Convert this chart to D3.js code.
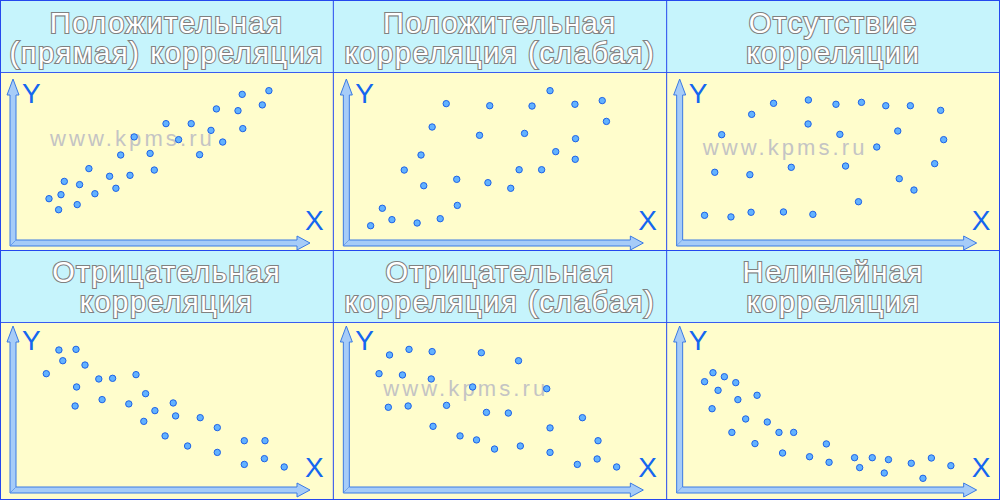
<!DOCTYPE html>
<html>
<head>
<meta charset="utf-8">
<script src="https://cdnjs.cloudflare.com/ajax/libs/d3/7.8.5/d3.min.js"></script>
<style>
  body { margin: 0; background: #fff; }
  svg { display: block; }
</style>
</head>
<body>
<div id="chart"></div>
<script>
// panel titles (two lines each)
var titles = [
  ["Положительная", "(прямая) корреляция"],
  ["Положительная", "корреляция (слабая)"],
  ["Отсутствие", "корреляции"],
  ["Отрицательная", "корреляция"],
  ["Отрицательная", "корреляция (слабая)"],
  ["Нелинейная", "корреляция"]
];

// points, 0..100 on each axis
var posStrongX = [12.0, 15.2, 16.0, 17.1, 21.4, 22.2, 25.3, 27.3, 32.2, 34.3, 35.9, 39.0, 40.4, 45.7, 47.1, 51.0, 55.2, 59.4, 62.2, 66.0, 67.8, 69.9, 75.0, 76.4, 76.6, 83.1, 85.3];
var posStrongY = [27.7, 20.8, 30.2, 38.5, 24.0, 36.5, 46.5, 30.8, 41.7, 34.2, 55.0, 42.3, 66.3, 56.0, 45.6, 74.6, 64.6, 74.6, 55.2, 70.4, 83.8, 63.1, 82.7, 92.9, 71.5, 86.3, 95.2];

var posWeakX = [8.1, 12.0, 15.2, 19.3, 23.6, 24.9, 25.8, 28.6, 31.3, 33.3, 36.8, 37.0, 44.4, 47.2, 47.8, 54.8, 57.6, 59.4, 61.9, 65.1, 67.9, 69.8, 76.2, 76.3, 76.4, 85.3, 86.7];
var posWeakY = [10.8, 21.7, 14.6, 45.6, 12.5, 55.0, 35.8, 72.5, 15.2, 87.1, 39.8, 23.5, 67.3, 37.7, 85.8, 34.2, 45.8, 68.5, 85.6, 45.8, 95.2, 57.1, 86.7, 52.3, 65.2, 89.0, 76.0];

var noneX = [8.3, 11.7, 14.0, 17.1, 23.4, 23.8, 24.0, 31.3, 34.6, 37.2, 42.8, 42.9, 44.4, 52.1, 53.4, 55.3, 59.6, 60.6, 65.7, 68.7, 72.7, 73.2, 76.9, 78.1, 85.0, 87.0, 88.0];
var noneY = [17.3, 44.2, 67.7, 16.3, 42.7, 19.2, 80.4, 87.3, 19.4, 47.3, 74.4, 89.4, 17.9, 86.7, 67.9, 48.1, 25.8, 87.9, 60.0, 85.8, 70.0, 40.2, 85.8, 33.1, 49.6, 82.9, 64.6];

var negStrongX = [11.1, 15.3, 16.6, 20.7, 21.0, 21.2, 24.0, 28.6, 29.7, 33.2, 38.6, 41.0, 43.6, 44.2, 47.3, 50.7, 53.4, 54.2, 58.2, 62.4, 68.1, 68.1, 77.1, 77.1, 83.8, 84.0, 90.4];
var negStrongY = [72.7, 87.5, 80.8, 52.5, 87.9, 64.4, 78.1, 69.4, 56.5, 69.8, 53.8, 72.1, 42.9, 60.2, 49.6, 33.8, 54.4, 46.3, 27.5, 45.2, 39.0, 23.5, 30.8, 16.0, 19.6, 30.8, 14.4];

var negWeakX = [10.9, 14.0, 14.4, 18.7, 20.6, 20.9, 28.3, 28.6, 28.9, 33.4, 37.9, 42.1, 43.4, 45.0, 46.7, 49.4, 54.0, 57.4, 58.0, 66.8, 67.9, 67.9, 77.0, 78.7, 83.6, 83.9, 90.1];
var negWeakY = [72.7, 51.7, 84.4, 71.9, 52.5, 87.9, 69.4, 86.5, 39.8, 52.9, 33.8, 64.4, 31.3, 85.8, 48.5, 25.6, 48.1, 80.8, 27.5, 63.3, 38.8, 23.5, 16.0, 45.2, 19.4, 30.8, 14.4];

var nonlinX = [8.3, 10.8, 11.1, 12.8, 14.9, 17.4, 18.7, 19.4, 22.0, 25.1, 25.8, 29.2, 33.1, 34.3, 38.0, 43.3, 48.9, 49.8, 58.3, 60.0, 64.2, 68.2, 69.6, 77.2, 81.1, 83.9, 90.4];
var nonlinY = [67.7, 50.8, 73.3, 62.3, 70.8, 36.0, 67.1, 56.5, 44.4, 29.0, 59.2, 42.5, 36.0, 23.1, 36.0, 20.8, 28.8, 17.3, 20.2, 14.0, 20.2, 10.6, 19.0, 16.7, 7.3, 20.0, 15.2];

var seriesX = [posStrongX, posWeakX, noneX, negStrongX, negWeakX, nonlinX];
var seriesY = [posStrongY, posWeakY, noneY, negStrongY, negWeakY, nonlinY];

// panels that carry the watermark
var watermark = "www.kpms.ru";
var watermarkPanels = [0, 2, 4];

var svgWidth = 1000;
var svgHeight = 500;
var panelWidth = svgWidth / 3;
var panelHeight = svgHeight / 2;
var bandHeight = 72;

var svg = d3.select("#chart")
  .append("svg")
  .attr("width", svgWidth)
  .attr("height", svgHeight)
  .style("font-family", "'Liberation Sans', Arial, sans-serif");

titles.forEach(function(title, i) {
  var col = i % 3;
  var row = Math.floor(i / 3);
  var g = svg.append("g")
    .attr("transform", `translate(${col * panelWidth}, ${row * panelHeight})`);

  // backgrounds
  g.append("rect")
    .attr("x", 0).attr("y", 0)
    .attr("width", panelWidth).attr("height", bandHeight)
    .attr("fill", "#c6f4fc");
  g.append("rect")
    .attr("x", 0).attr("y", bandHeight)
    .attr("width", panelWidth).attr("height", panelHeight - bandHeight)
    .attr("fill", "#fffdcc");

  // scales: the axis origin sits a little higher in the bottom row
  var axisY = row == 0 ? 243 : 240;
  var x = d3.scaleLinear().domain([0, 100]).range([13, 313]);
  var y = d3.scaleLinear().domain([0, 100]).range([axisY, axisY - 160]);

  // title, outlined letters
  g.selectAll("text.title")
    .data(title)
    .enter()
    .append("text")
    .attr("class", "title")
    .attr("x", panelWidth / 2)
    .attr("y", (d, k) => (row == 0 ? 33 : 32) + k * 30)
    .attr("text-anchor", "middle")
    .attr("font-size", 29)
    .attr("letter-spacing", 1.6)
    .attr("fill", "#ffffff")
    .attr("stroke", "#808080")
    .attr("stroke-width", 2.2)
    .attr("paint-order", "stroke")
    .text(d => d);

  if (watermarkPanels.indexOf(i) >= 0) {
    var wx = [50, 36, 50][watermarkPanels.indexOf(i)];
    var wy = [146, 155, 146][watermarkPanels.indexOf(i)];
    g.append("text")
      .attr("x", wx).attr("y", wy)
      .attr("font-size", 22)
      .attr("letter-spacing", 3.1)
      .attr("fill", "#c4c4c4")
      .text(watermark);
  }

  // axes as block arrows
  var x0 = x(0), y0 = y(0);
  var yTip = y(102.5), xTip = x(99);
  var arrowStyle = function(p) {
    p.attr("fill", "#a6ccf8").attr("stroke", "#3a7ae4").attr("stroke-width", 1);
  };
  g.append("path")
    .attr("d", `M${x0 - 3},${y0 + 3} L${x0 - 3},${yTip + 16} L${x0 - 6},${yTip + 16} L${x0},${yTip} L${x0 + 6},${yTip + 16} L${x0 + 3},${yTip + 16} L${x0 + 3},${y0 - 3} Z`)
    .call(arrowStyle);
  g.append("path")
    .attr("d", `M${x0 - 3},${y0 + 3} L${xTip - 13},${y0 + 3} L${xTip - 13},${y0 + 7} L${xTip},${y0} L${xTip - 13},${y0 - 7} L${xTip - 13},${y0 - 3} L${x0 + 3},${y0 - 3}`)
    .call(arrowStyle);

  g.append("text")
    .attr("x", x0 + 9).attr("y", yTip + 24)
    .attr("font-size", 28)
    .attr("fill", "#1466f0")
    .text("Y");
  g.append("text")
    .attr("x", xTip - 5).attr("y", y0 - 13)
    .attr("font-size", 28)
    .attr("fill", "#1466f0")
    .text("X");

  // points
  var pts = seriesX[i].map((v, k) => ({ x: v, y: seriesY[i][k] }));
  g.selectAll("circle")
    .data(pts)
    .enter()
    .append("circle")
    .attr("cx", d => x(d.x))
    .attr("cy", d => y(d.y))
    .attr("r", 3.2)
    .attr("fill", "#62b2ff")
    .attr("stroke", "#1e62e6")
    .attr("stroke-width", 1);

  // frame lines
  g.append("line")
    .attr("x1", 0).attr("x2", panelWidth)
    .attr("y1", bandHeight + 0.5).attr("y2", bandHeight + 0.5)
    .attr("stroke", "#3a5cf0");
});

// outer frame and dividers
var frame = svg.append("g").attr("stroke", "#2448ee").attr("fill", "none");
frame.append("rect")
  .attr("x", 0.5).attr("y", 0.5)
  .attr("width", svgWidth - 1).attr("height", svgHeight - 1);
[1, 2].forEach(function(c) {
  frame.append("line")
    .attr("x1", c * panelWidth).attr("x2", c * panelWidth)
    .attr("y1", 0).attr("y2", svgHeight);
});
frame.append("line")
  .attr("x1", 0).attr("x2", svgWidth)
  .attr("y1", panelHeight + 0.5).attr("y2", panelHeight + 0.5);
</script>
</body>
</html>
